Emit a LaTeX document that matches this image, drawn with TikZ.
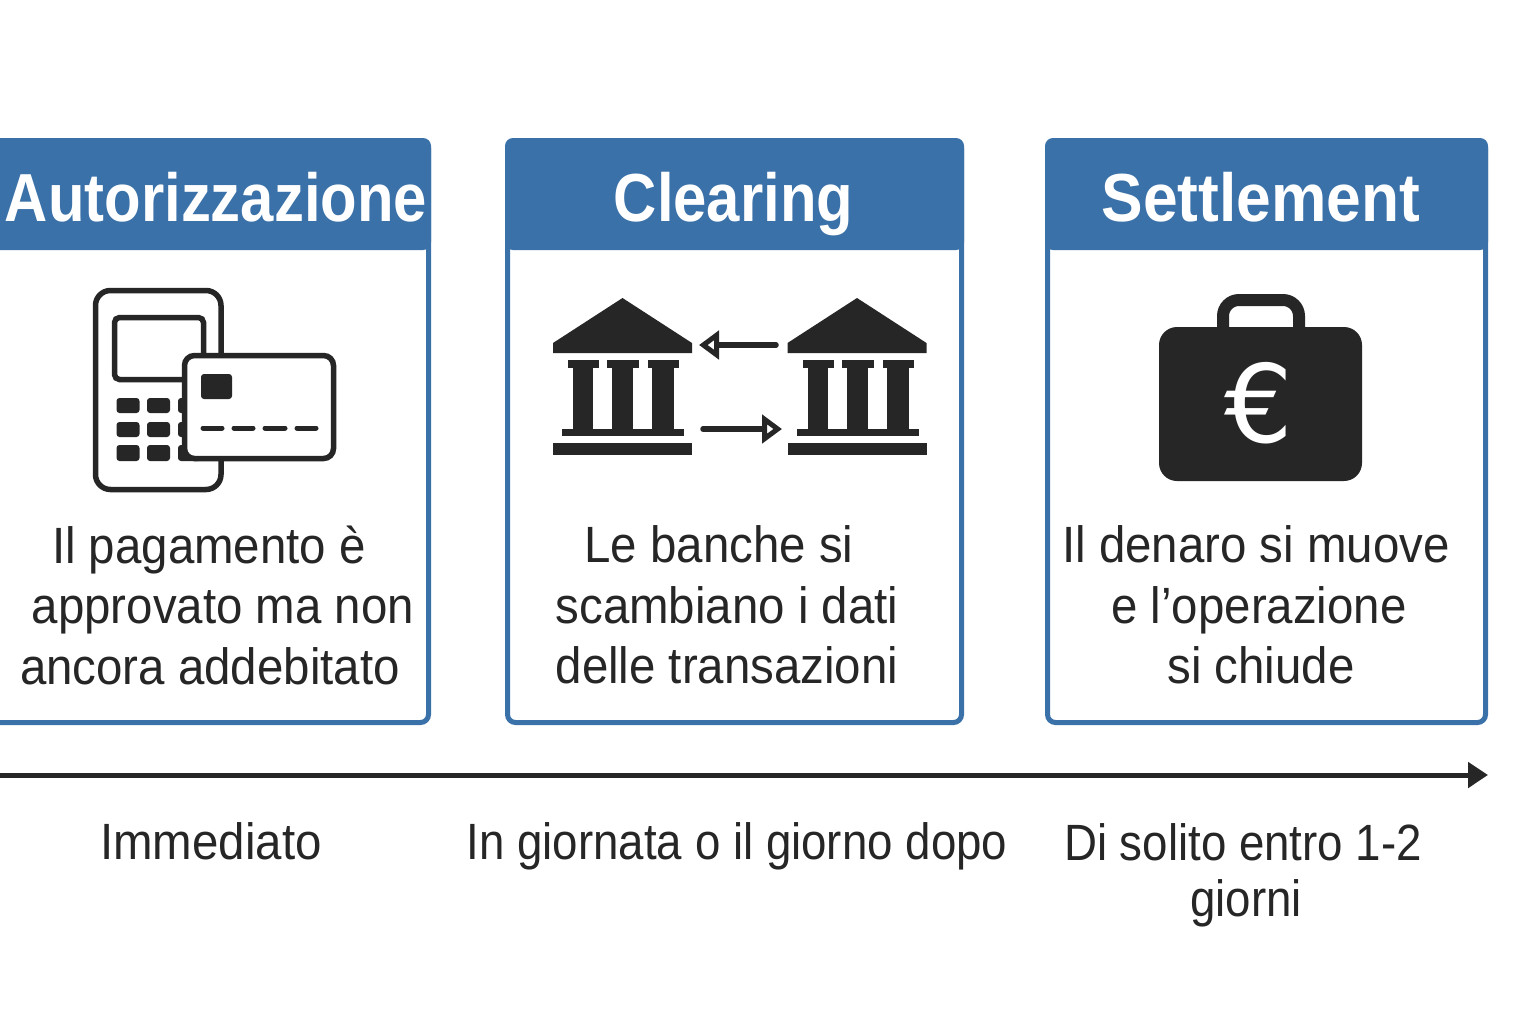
\documentclass[tikz,border=0pt]{standalone}
\usepackage{fontspec}
\usetikzlibrary{arrows.meta}
\setmainfont{Liberation Sans}
\newfontfamily\bodyfont[FakeStretch=0.93]{Liberation Sans}
\newfontfamily\timefont[FakeStretch=0.93]{Liberation Sans}
\newfontfamily\timenarrow[FakeStretch=0.895]{Liberation Sans}
\newfontfamily\headfont[FakeStretch=0.916]{Liberation Sans Bold}
\newfontfamily\headnarrow[FakeStretch=0.88]{Liberation Sans Bold}
\newfontfamily\eurofont{DejaVu Sans}
\definecolor{panelblue}{HTML}{3A71A9}
\definecolor{ink}{HTML}{262626}
\tikzset{
  panelbox/.style={draw=panelblue,line width=2.5pt,rounded corners=4pt},
  headfill/.style={fill=panelblue,rounded corners=4pt},
  headtext/.style={text=white,font=\headfont\fontsize{34}{34}\selectfont,anchor=base,inner sep=0pt},
  headtextn/.style={text=white,font=\headnarrow\fontsize{34}{34}\selectfont,anchor=base,inner sep=0pt},
  bodytext/.style={text=ink,font=\bodyfont\fontsize{25.5}{30.25}\selectfont,align=center,inner sep=0pt},
  timetext/.style={text=ink,font=\timefont\fontsize{25.5}{28}\selectfont,align=center,inner sep=0pt},
  timetextn/.style={text=ink,font=\timenarrow\fontsize{25.5}{28}\selectfont,align=center,inner sep=0pt},
  iconline/.style={draw=ink,line width=2.75pt,fill=white},
  dashline/.style={draw=ink,line width=2.5pt,line cap=round},
  keycap/.style={fill=ink,rounded corners=1.5pt},
  swaparrow/.style={draw=ink,line width=2.75pt,line cap=round,-{Triangle[open,length=10pt,width=14pt]}},
  timeline/.style={draw=ink,line width=2.5pt,-{Triangle[length=10pt,width=12.5pt]}}
}
\newcommand{\bankicon}[1]{%
  \begin{scope}[shift={(#1,0)}]
    \fill[ink] (0,343) -- (69.5,298) -- (139,343) -- (139,353) -- (0,353) -- cycle;
    \fill[ink] (15,360) rectangle (46,368);
    \fill[ink] (54,360) rectangle (86,368);
    \fill[ink] (95,360) rectangle (126,368);
    \fill[ink] (20,368) rectangle (40,430);
    \fill[ink] (59,368) rectangle (80,430);
    \fill[ink] (99,368) rectangle (121,430);
    \fill[ink] (9,429) rectangle (131,436);
    \fill[ink] (0,443) rectangle (139,455);
  \end{scope}}
\begin{document}
\begin{tikzpicture}[x=0.5pt,y=-0.5pt]
\useasboundingbox (0,0) rectangle (1536,1024);
\clip (0,0) rectangle (1536,1024);
\fill[white] (0,0) rectangle (1536,1024);
% panels
\path[panelbox] (-20,140.5) rectangle (428.5,722.5);
\path[headfill] (-20,250) -- (-20,138) -- (431,138) -- (431,250) -- cycle;
\path[panelbox] (507.5,140.5) rectangle (961.5,722.5);
\path[headfill] (505,250) -- (505,138) -- (964,138) -- (964,250) -- cycle;
\path[panelbox] (1047.5,140.5) rectangle (1485.5,722.5);
\path[headfill] (1045,250) -- (1045,138) -- (1488,138) -- (1488,250) -- cycle;
\node[headtextn] (h1) at (216,221) {Autorizzazione};
\node[headtextn] (h2) at (733.5,221) {Clearing};
\node[headtext] (h3) at (1261,221) {Settlement};
% terminal
\path[iconline,rounded corners=7.5pt] (95.5,290.5) rectangle (221,489.5);
\path[iconline,rounded corners=2.5pt] (114.5,317.5) rectangle (203.5,379.5);
\foreach \kx/\kw in {116.5/23,147/23,178/23}
  \foreach \ky/\kh in {398/15,422/15,445/16}
    \path[keycap] (\kx,\ky) rectangle +(\kw,\kh);
\path[iconline,rounded corners=5pt] (184.5,355.5) rectangle (333.5,458.5);
\path[keycap] (201,374) rectangle (232,399);
\draw[dashline] (203,428) -- (222,428);
\draw[dashline] (234,428) -- (253,428);
\draw[dashline] (265,428) -- (285,428);
\draw[dashline] (297,428) -- (316,428);
% banks
\bankicon{553}
\bankicon{787.5}
\coordinate (s1) at (776,345);
\coordinate (t1) at (699,345);
\coordinate (s2) at (703,429);
\coordinate (t2) at (782,429);
\draw[swaparrow] (s1) -- (t1);
\draw[swaparrow] (s2) -- (t2);
% briefcase
\draw[ink,line width=6pt,rounded corners=8pt] (1223,330) -- (1223,300) -- (1299,300) -- (1299,330);
\fill[ink,rounded corners=9pt] (1159,327) rectangle (1362,481);
\node[text=white,font=\eurofont\fontsize{54}{54}\selectfont,inner sep=0pt] (euro) at (1259,403) {€};
% body text
\node[bodytext] (b1) at (210,605) {\hspace*{-1pt}Il pagamento è\\\hspace*{13pt}approvato ma non\\ancora addebitato};
\node[bodytext] (b2) at (727,605) {\hspace*{-8pt}Le banche si\\scambiano i dati\\delle transazioni};
\node[bodytext] (b3) at (1259,605) {\hspace*{-3pt}Il denaro si muove\\e l’operazione\\\hspace*{2pt}si chiude};
% timeline
\coordinate (ts) at (-5,775);
\coordinate (te) at (1488,775);
\draw[timeline] (ts) -- (te);
\node[timetext,anchor=base] (t1l) at (211,859) {Immediato};
\node[timetextn,anchor=base] (t2l) at (737,859) {In giornata o il giorno dopo};
\node[timetextn] (t3l) at (1243,875) {Di solito entro 1-2\\\hspace*{3pt}giorni};
\end{tikzpicture}
\end{document}
